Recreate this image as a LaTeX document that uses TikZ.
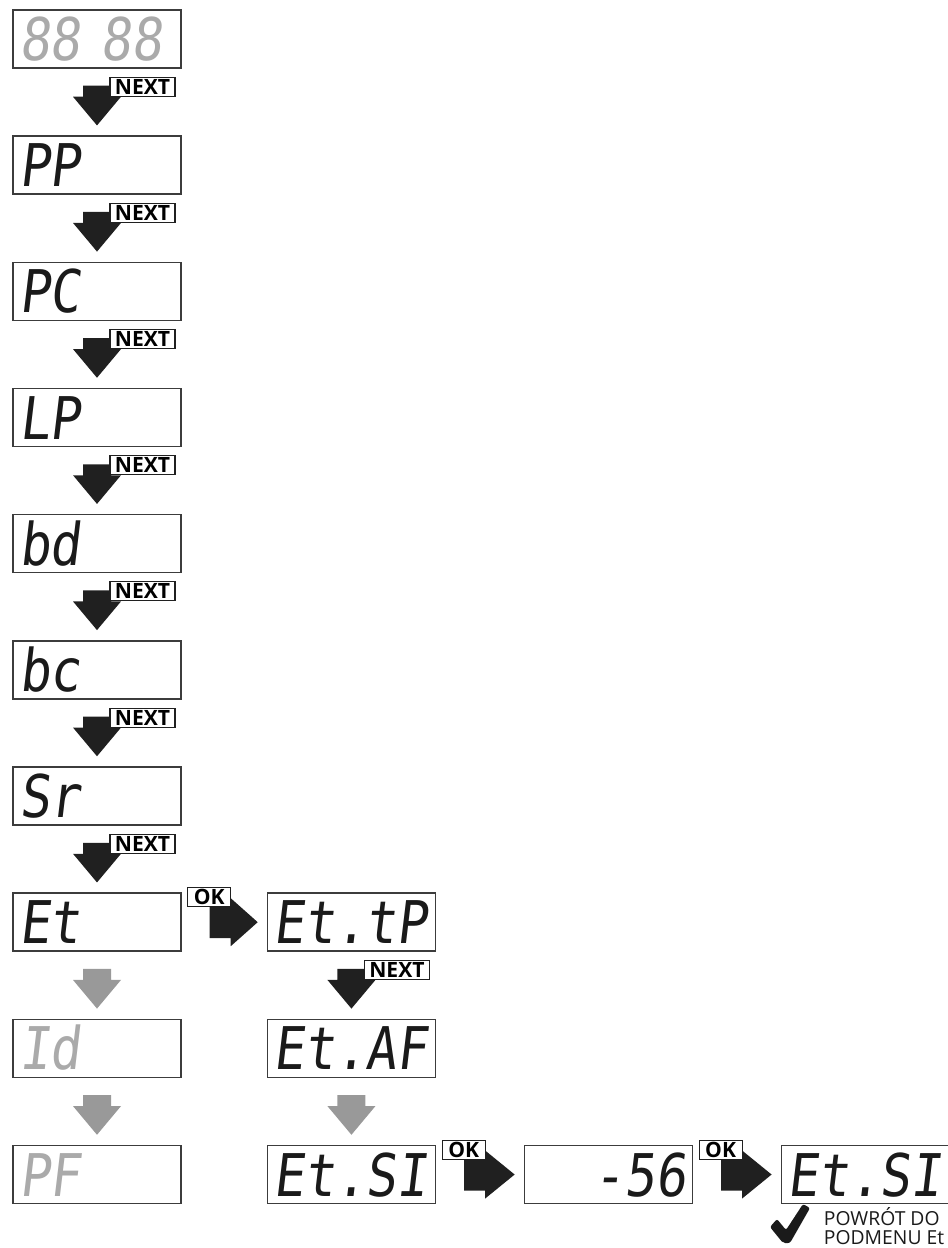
\documentclass[tikz,border=0pt]{standalone}
\usepackage{fontspec}
\usetikzlibrary{positioning,calc}
\setmainfont{Open Sans}
\newfontfamily\segfont[FakeSlant=0.12,FakeStretch=0.87]{DejaVu Sans Mono}
\definecolor{seg_dark}{RGB}{26,26,26}
\definecolor{seg_gray}{RGB}{170,170,170}
\definecolor{arrow_dark}{RGB}{32,32,32}
\definecolor{arrow_gray}{RGB}{153,153,153}
\definecolor{frame_gray}{RGB}{60,60,60}
% block arrows between two displays (coordinates in px)
\newcommand{\arrowdown}[3]{%
  \fill[#3] ($(#1.south)+(-14,17)$) -- ++(28,0) -- ++(0,11) -- ++(10,0)
    -- ($(#2.north)+(0,-10)$) -- ($(#1.south)+(-24,28)$) -- ++(10,0) -- cycle;
}
\newcommand{\arrowright}[3]{%
  \fill[#3] ($(#1.east)+(28,-16)$) -- ++(21,0) -- ++(0,-8)
    -- ($(#2.west)+(-9,0)$) -- ($(#1.east)+(49,24)$) -- ++(0,-8) -- ++(-21,0) -- cycle;
}
\newcommand{\nextstep}[2]{%
  \arrowdown{#1}{#2}{arrow_dark}
  \node[keylabel, minimum width=1.3cm] (#1-next) at ($(#1.south)+(45.5,18)$) {NEXT};
}
\newcommand{\okstep}[2]{%
  \arrowright{#1}{#2}{arrow_dark}
  \node[keylabel, minimum width=0.86cm] (#1-ok) at ($(#1.east)+(27.5,-25)$) {OK};
}

\begin{document}
\begin{tikzpicture}[x=0.02cm, y=-0.02cm, node distance=1.334cm,
    display/.style={draw=frame_gray, line width=0.85pt, minimum width=3.36cm,
      minimum height=1.16cm, text width=3.12cm, inner xsep=0.12cm, inner ysep=0pt,
      text height=0.86cm, text depth=0cm, align=left, text=seg_dark,
      font=\segfont\fontsize{33.5}{33.5}\selectfont},
    dimmed/.style={text=seg_gray},
    keylabel/.style={draw=arrow_dark, line width=0.6pt, fill=white, inner sep=0pt,
      minimum height=0.38cm, font=\bfseries\fontsize{12}{12}\selectfont}]
  \useasboundingbox (0,0) rectangle (947,1248);

  % Main menu
  \node[display, dimmed] (start) at (97,39) {88\ 88};
  \node[display, below=of start] (pp) {PP};
  \node[display, below=of pp] (pc) {PC};
  \node[display, below=of pc] (lp) {LP};
  \node[display, below=of lp] (bd) {bd};
  \node[display, below=of bd] (bc) {bc};
  \node[display, below=of bc] (sr) {Sr};
  \node[display, below=of sr] (et) {Et};
  \node[display, dimmed, below=of et] (id) {Id};
  \node[display, dimmed, below=of id] (pf) {PF};

  % Submenu Et
  \node[display, right=1.7cm of et] (ettp) {Et.tP};
  \node[display, below=of ettp] (etaf) {Et.AF};
  \node[display, below=of etaf] (etsi) {Et.SI};
  \node[display, align=right, right=1.75cm of etsi] (value) {-56};
  \node[display, right=1.75cm of value] (back) {Et.SI};

  % Arrows
  \nextstep{start}{pp}
  \nextstep{pp}{pc}
  \nextstep{pc}{lp}
  \nextstep{lp}{bd}
  \nextstep{bd}{bc}
  \nextstep{bc}{sr}
  \nextstep{sr}{et}
  \arrowdown{et}{id}{arrow_gray}
  \arrowdown{id}{pf}{arrow_gray}
  \okstep{et}{ettp}
  \nextstep{ettp}{etaf}
  \arrowdown{etaf}{etsi}{arrow_gray}
  \okstep{etsi}{value}
  \okstep{value}{back}

  % Return note
  \fill[seg_dark, rounded corners=1.2pt] (770,1227) -- (777,1219) -- (786,1230)
    -- (803,1204) -- (810,1208) -- (790,1243) -- (783,1243) -- cycle;
  \node[anchor=north west, inner sep=0pt, align=left, text=seg_dark,
    font=\fontsize{11}{10.8}\selectfont] (note) at ($(back.south west)+(43,3)$)
    {POWRÓT DO\\PODMENU Et};
\end{tikzpicture}
\end{document}
